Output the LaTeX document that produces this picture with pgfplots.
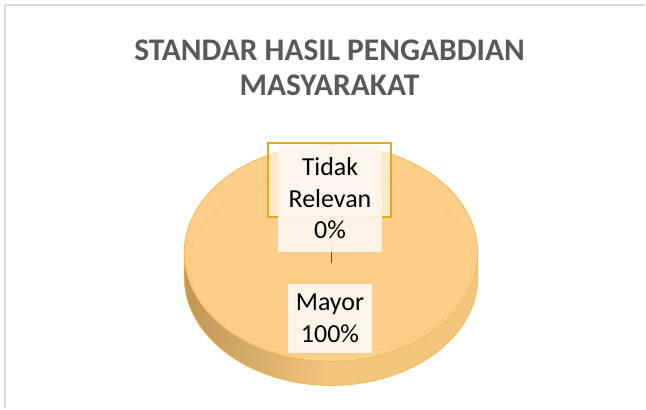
\documentclass[border=0pt]{standalone}
\usepackage{fontspec}
\setmainfont{Carlito}
\usepackage{pgfplots}
\pgfplotsset{compat=1.18}
\usepackage{pgfplotstable}
\pgfplotstableread{
label value
Mayor 100
Minor 0
TidakRelevan 0
}\piedata
\definecolor{pietop}{RGB}{251,207,138}
\definecolor{pieedge}{RGB}{245,182,80}
\definecolor{sidedark}{RGB}{190,150,88}
\definecolor{sidemid}{RGB}{242,198,125}
\definecolor{titlegray}{RGB}{89,89,89}
\definecolor{framegray}{RGB}{217,217,217}
\definecolor{goldborder}{RGB}{230,168,25}
\definecolor{labelfill}{RGB}{253,247,238}
\begin{document}
\begin{tikzpicture}
\begin{axis}[scale only axis, width=646pt, height=409pt,
  xmin=0, xmax=646, ymin=0, ymax=409, hide axis, clip=false]
\pgfplotstablegetelem{0}{value}\of\piedata
\pgfmathsetmacro{\spanA}{3.6*\pgfplotsretval}
% frame
\draw[framegray, line width=2pt] (axis cs:5,0) -- (axis cs:5,404) -- (axis cs:646,404);
\path (axis cs:0,0) rectangle (axis cs:646,409);
% title
\node[text=titlegray, font=\fontsize{31.5}{35}\selectfont\bfseries, align=center] at (axis cs:330,341) {STANDAR HASIL PENGABDIAN\\MASYARAKAT};
% pie side (depth)
\shade[left color=sidedark, right color=sidemid, middle color=sidemid]
  (axis cs:184.5,155.5) -- (axis cs:184.5,131.5)
  arc[start angle=180, end angle=360, x radius=147, y radius=108.5]
  -- (axis cs:478.5,155.5)
  arc[start angle=360, end angle=180, x radius=147, y radius=108.5] -- cycle;
\draw[pieedge, line width=0.8pt] (axis cs:184.5,155.5) -- (axis cs:184.5,131.5)
  arc[start angle=180, end angle=360, x radius=147, y radius=108.5] -- (axis cs:478.5,155.5);
% pie top: slice Mayor (full)
\fill[pietop] (axis cs:331.5,155.5) -- (axis cs:331.5,264)
  arc[start angle=90, end angle=90-\spanA, x radius=147, y radius=108.5] -- cycle;
\draw[pieedge, line width=0.8pt] (axis cs:331.5,155.5) ellipse [x radius=147, y radius=108.5];
\draw[pieedge, opacity=0.35, line width=0.6pt] (axis cs:331.5,145) ellipse [x radius=141.5, y radius=91];
\draw[black!45!brown, line width=0.6pt] (axis cs:331.5,146) -- (axis cs:331.5,264);
% labels
\fill[white, opacity=0.55] (axis cs:268,192) rectangle (axis cs:392,266);
\draw[goldborder, line width=2pt] (axis cs:268,192) rectangle (axis cs:392,266);
\node[fill=labelfill, fill opacity=0.92, text opacity=1, draw=none, minimum width=105pt, minimum height=107pt, inner sep=0pt, align=center, font=\fontsize{26}{31.5}\selectfont] at (axis cs:330.5,210.5) {Tidak\\Relevan\\0\%};
\node[fill=labelfill, fill opacity=0.95, text opacity=1, minimum width=85pt, minimum height=70pt, inner sep=0pt, align=center, font=\fontsize{26}{32}\selectfont] at (axis cs:330.5,90) {Mayor\\100\%};
\end{axis}
\end{tikzpicture}
\end{document}
